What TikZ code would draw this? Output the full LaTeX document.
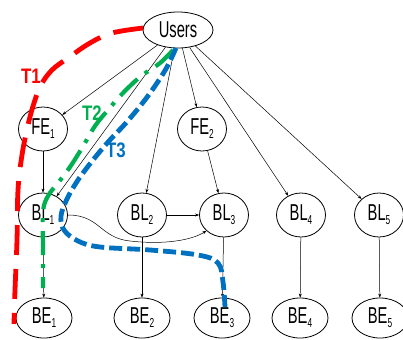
\documentclass[tikz,border=0pt]{standalone}
\usepackage{fontspec}
\setmainfont{Liberation Sans}[FakeStretch=0.64]
\newfontfamily\lblfont{Liberation Sans}[FakeStretch=0.8]
\usetikzlibrary{shapes.geometric,arrows.meta}
\definecolor{tred}{RGB}{255,0,0}
\definecolor{tgreen}{RGB}{0,176,80}
\definecolor{tblue}{RGB}{0,112,192}
\newcommand\subn[1]{\raisebox{-4pt}{\fontsize{13}{13}\selectfont #1}}
\begin{document}
\begin{tikzpicture}[x=1pt,y=-1pt,
  comp/.style={ellipse,draw,line width=0.8pt,inner sep=0pt,font=\fontsize{23}{23}\selectfont},
  fbnode/.style={comp,minimum width=49pt,minimum height=44pt},
  benode/.style={comp,minimum width=56pt,minimum height=40pt},
  usernode/.style={comp,minimum width=70pt,minimum height=36pt},
  link/.style={-{Stealth[length=4pt,width=3pt]},line width=0.5pt},
  tlabel/.style={font=\lblfont\fontsize{21}{21}\selectfont\bfseries,inner sep=0pt},
  trA/.style={draw=tred,line width=4.8pt,dash pattern=on 30pt off 14pt},
  trB/.style={draw=tgreen,line width=4.2pt,dash pattern=on 24pt off 9pt on 4pt off 9pt},
  trC/.style={draw=tblue,line width=4.8pt,dash pattern=on 13pt off 5pt}
]
\useasboundingbox (0,0) rectangle (403,339);
\clip (0,0) rectangle (403,339);

\node[usernode] (U) at (178,30) {Users};
\node[fbnode] (FE1) at (43,129) {FE\subn{1}};
\node[fbnode] (FE2) at (202,129) {FE\subn{2}};
\node[fbnode] (BL1) at (43,215) {BL\subn{1}};
\node[fbnode] (BL2) at (142,215) {BL\subn{2}};
\node[fbnode] (BL3) at (224,215) {BL\subn{3}};
\node[fbnode] (BL4) at (301,215) {BL\subn{4}};
\node[fbnode] (BL5) at (379,215) {BL\subn{5}};
\node[benode] (BE1) at (44,318) {BE\subn{1}};
\node[benode] (BE2) at (142,318) {BE\subn{2}};
\node[benode] (BE3) at (222,318) {BE\subn{3}};
\node[benode] (BE4) at (300,318) {BE\subn{4}};
\node[benode] (BE5) at (380,318) {BE\subn{5}};

\draw[link] (U) -- (FE1);
\draw[link] (U) -- (BL1);
\draw[link] (U) -- (BL2);
\draw[link] (U) -- (FE2);
\draw[link] (U) -- (BL4);
\draw[link] (U) -- (BL5);
\draw[link] (FE1) -- (BL1);
\draw[link] (FE2) -- (BL3);
\draw[link] (BL2) -- (BL3);
\draw[link] (BL1.east) .. controls (100,215) and (100,238) .. (130,241) .. controls (165,245) and (192,240) .. (BL3.south west);
\draw[link] (BL1) -- (BE1);
\draw[link] (BL2) -- (BE2);
\draw[link] (BL3) -- (BE3);
\draw[link] (BL4) -- (BE4);
\draw[link] (BL5) -- (BE5);

\draw[trA] plot[smooth,tension=0.6] coordinates {(143,28) (112,33) (90,43) (68,58) (52,70) (41,85) (34,103) (28,125) (22,155) (18,190) (17,240) (15,290) (14,324)};
\draw[trB] plot[smooth,tension=0.6] coordinates {(173,50) (160,63) (140,77) (122,94) (108,110) (95,126) (82,148) (70,167) (58,183) (48,196) (43,212) (43,250) (43,288)};
\draw[trC] plot[smooth,tension=0.6] coordinates {(176,48) (167,67) (155,86) (141,105) (125,124) (109,141) (93,160) (78,180) (67,199) (61,216) (64,230) (78,241) (100,247) (150,250) (198,255) (218,263) (223,282) (225,307)};

\node[tlabel,text=tred] (L1) at (31,76) {T1};
\node[tlabel,text=tgreen] (L2) at (92,113) {T2};
\node[tlabel,text=tblue] (L3) at (116,150) {T3};
\end{tikzpicture}
\end{document}
